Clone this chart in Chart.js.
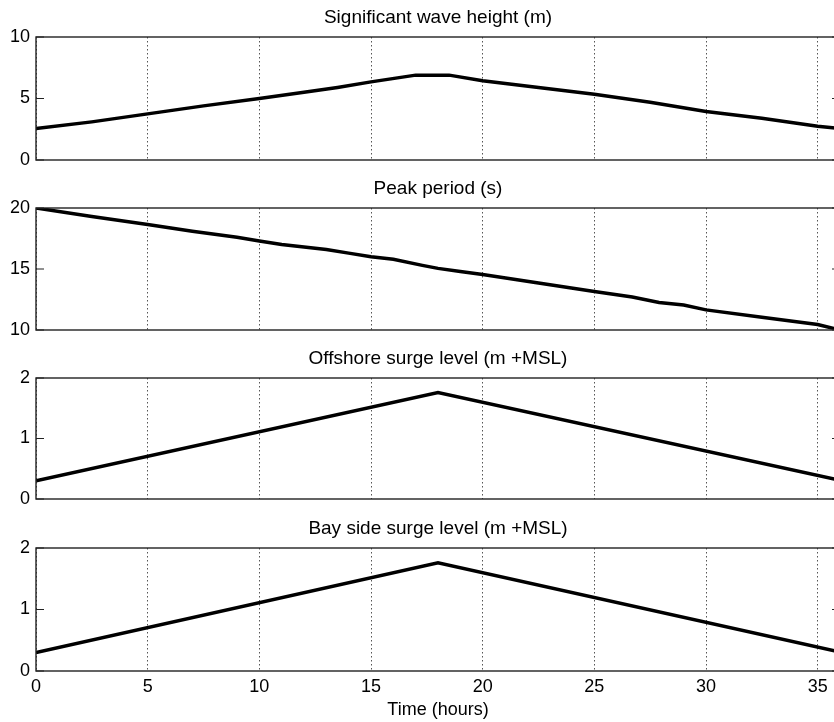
<!DOCTYPE html>
<html>
<head>
<meta charset="utf-8">
<script src="https://cdn.jsdelivr.net/npm/chart.js@4.4.1/dist/chart.umd.min.js"></script>
<style>
  html, body { margin: 0; padding: 0; background: #fff; overflow: hidden; }
  #wrap { position: relative; width: 834px; height: 722px; overflow: hidden; }
  .panel { position: absolute; left: 0; }
</style>
</head>
<body>
<div id="wrap">
  <canvas id="c1" class="panel"></canvas>
  <canvas id="c2" class="panel"></canvas>
  <canvas id="c3" class="panel"></canvas>
  <canvas id="c4" class="panel"></canvas>
</div>
<script>
// Storm time series (hours from start of event)
const waveHours   = [0, 2.5, 5, 7.5, 10, 12, 13.5, 15, 17, 18.5, 20, 22.5, 25, 27.5, 30, 32.5, 35, 36];
const waveHeight  = [2.55, 3.1, 3.75, 4.4, 5.0, 5.5, 5.9, 6.35, 6.9, 6.9, 6.45, 5.9, 5.35, 4.7, 3.95, 3.4, 2.75, 2.55];

const periodHours = [0, 2.5, 5, 7, 9, 10, 11, 13, 14, 15, 16, 17.3, 18, 19, 20, 22.5, 25, 26.7, 27.9, 29, 30, 32.5, 35, 36];
const peakPeriod  = [20, 19.3, 18.65, 18.1, 17.6, 17.3, 17.0, 16.6, 16.3, 16.0, 15.8, 15.3, 15.05, 14.8, 14.55, 13.85, 13.15, 12.7, 12.25, 12.05, 11.65, 11.05, 10.45, 10.0];

const surgeHours    = [0, 18, 36];
const offshoreSurge = [0.3, 1.76, 0.31];
const baySurge      = [0.3, 1.76, 0.31];

// Axis ticks
const timeTicks   = [0, 5, 10, 15, 20, 25, 30, 35];
const waveTicks   = [0, 5, 10];
const periodTicks = [10, 15, 20];
const surgeTicks  = [0, 1, 2];

const FONT = '"Liberation Sans", Arial, Helvetica, sans-serif';

const pairs = (xs, ys) => xs.map((x, i) => ({ x, y: ys[i] }));

// Box round the axes, MATLAB-style inward y tick marks, and a title centred over the axes
const framePlugin = {
  id: 'frame',
  afterDatasetsDraw(chart, args, opts) {
    const { ctx, chartArea: a, scales } = chart;
    const ys = scales.y;
    ctx.save();
    ctx.strokeStyle = '#222';
    ctx.lineWidth = 1.4;
    ctx.strokeRect(a.left, a.top, a.right - a.left, a.bottom - a.top);
    ctx.lineWidth = 1.2;
    ys.ticks.forEach(t => {
      const py = ys.getPixelForValue(t.value);
      ctx.beginPath();
      ctx.moveTo(a.left, py); ctx.lineTo(a.left + 8, py);
      ctx.moveTo(a.right, py); ctx.lineTo(a.right - 8, py);
      ctx.stroke();
    });
    if (opts.text) {
      ctx.fillStyle = '#000';
      ctx.font = '19px ' + FONT;
      ctx.textAlign = 'center';
      ctx.textBaseline = 'middle';
      ctx.fillText(opts.text, (a.left + a.right) / 2, a.top - 19);
    }
    ctx.restore();
  }
};

function makePanel(id, top, plotH, title, points, yMin, yMax, yTicks, last) {
  const canvas = document.getElementById(id);
  const xAxisH = last ? 51 : 0;
  const padBottom = last ? 0 : 18;
  const h = 37 + plotH + xAxisH + padBottom;
  canvas.width = 850;
  canvas.height = h;
  canvas.style.top = top + 'px';

  new Chart(canvas, {
    type: 'line',
    data: {
      datasets: [{
        data: points,
        borderColor: '#000',
        borderWidth: 3.5,
        pointRadius: 0,
        tension: 0,
        fill: false
      }]
    },
    options: {
      responsive: false,
      animation: false,
      devicePixelRatio: 1,
      layout: { padding: { left: 0, right: 10, top: 37, bottom: padBottom } },
      plugins: {
        legend: { display: false },
        tooltip: { enabled: false },
        title: { display: false },
        frame: { text: title }
      },
      scales: {
        x: {
          type: 'linear',
          min: 0,
          max: 36,
          afterBuildTicks: s => { s.ticks = timeTicks.map(v => ({ value: v })); },
          afterFit: s => { s.height = xAxisH; },
          grid: {
            display: true,
            color: '#555',
            lineWidth: 1,
            drawTicks: false
          },
          border: { display: false, dash: [1.5, 2.5] },
          ticks: {
            display: last,
            color: '#000',
            padding: 5,
            maxRotation: 0,
            font: { family: FONT, size: 18 }
          },
          title: {
            display: last,
            text: 'Time (hours)',
            color: '#000',
            font: { family: FONT, size: 18, lineHeight: 1.2 },
            padding: { top: 0, bottom: 1 }
          }
        },
        y: {
          type: 'linear',
          min: yMin,
          max: yMax,
          afterBuildTicks: s => { s.ticks = yTicks.map(v => ({ value: v })); },
          afterFit: s => { s.width = 36; },
          grid: { display: false, drawTicks: false },
          border: { display: false },
          ticks: {
            color: '#000',
            padding: 6,
            font: { family: FONT, size: 18 }
          }
        }
      }
    },
    plugins: [framePlugin]
  });
}

makePanel('c1', 0,   123, 'Significant wave height (m)', pairs(waveHours, waveHeight), 0, 10, waveTicks, false);
makePanel('c2', 171, 122, 'Peak period (s)', pairs(periodHours, peakPeriod), 10, 20, periodTicks, false);
makePanel('c3', 341, 121, 'Offshore surge level (m +MSL)', pairs(surgeHours, offshoreSurge), 0, 2, surgeTicks, false);
makePanel('c4', 511, 123, 'Bay side surge level (m +MSL)', pairs(surgeHours, baySurge), 0, 2, surgeTicks, true);
</script>
</body>
</html>
